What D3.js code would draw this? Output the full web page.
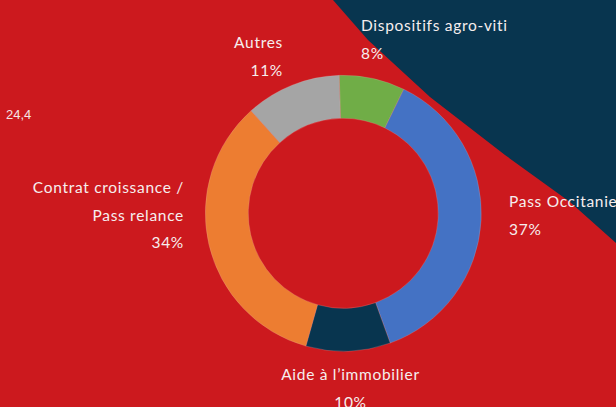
<!DOCTYPE html>
<html>
<head>
<meta charset="utf-8">
<script src="https://cdn.jsdelivr.net/npm/d3@7"></script>
<style>
  html, body { margin: 0; padding: 0; background: #cc191e; }
  svg { display: block; }
  .lbl { font-family: Lato, "Open Sans", sans-serif; font-weight: 400; font-size: 15.5px; letter-spacing: 0.7px; fill: #f6eeee; }
  .stray { font-family: "Liberation Sans", Arial, sans-serif; font-size: 13px; fill: #f4e4e4; }
</style>
</head>
<body>
<svg id="chart"></svg>
<script>
// slices, clockwise from the top
const categories = ["Dispositifs agro-viti", "Pass Occitanie", "Aide à l’immobilier", "Contrat croissance / Pass relance", "Autres"];
const values = [7.7, 37.3, 9.9, 34.0, 11.2];
const colors = ["#70ad47", "#4472c4", "#08354f", "#ed7d31", "#a5a5a5"];

// label lines (category text split as in the reference)
const labelLines = [
    ["Dispositifs agro-viti"],
    ["Pass Occitanie"],
    ["Aide à l’immobilier"],
    ["Contrat croissance /", "Pass relance"],
    ["Autres"]
];

const width = 616, height = 407;
const cx = 343.3, cy = 213.3;
const outerR = 138, innerR = 95;

// label anchor, baseline of first line, and text-anchor
const labelPos = [
    { x: 361, y: 31, anchor: "start" },
    { x: 509, y: 207, anchor: "start" },
    { x: 350.5, y: 380, anchor: "middle" },
    { x: 184, y: 193, anchor: "end" },
    { x: 283, y: 48, anchor: "end" }
];
const lineGap = 27.5;

const svg = d3.select("#chart")
    .attr("width", width)
    .attr("height", height);

// dark band in the top right corner of the slide
svg.append("path")
    .attr("d", "M333,0 L368,40 L430,97 L505,155 L570,202 L616,243 L616,0 Z")
    .attr("fill", "#08354f");

svg.append("text")
    .attr("class", "stray")
    .attr("x", 6)
    .attr("y", 119)
    .text("24,4");

const total = d3.sum(values);
const startA = -1.7 * Math.PI / 180;

const pie = d3.pie()
    .sort(null)
    .value(d => d)
    .startAngle(startA)
    .endAngle(startA + 2 * Math.PI);

const arc = d3.arc()
    .innerRadius(innerR)
    .outerRadius(outerR);

const g = svg.append("g")
    .attr("transform", `translate(${cx},${cy})`);

g.selectAll("path")
    .data(pie(values))
    .join("path")
    .attr("d", arc)
    .attr("fill", (d, i) => colors[i])
    .attr("stroke", "#e8b0b0")
    .attr("stroke-width", 0.4)
    .attr("stroke-opacity", 0.6);

// labels: category name(s) + rounded percentage
const fmt = v => `${Math.round(v / total * 100)}%`;

values.forEach((v, i) => {
    const p = labelPos[i];
    const t = svg.append("text")
        .attr("class", "lbl")
        .attr("text-anchor", p.anchor);
    const lines = labelLines[i].concat([fmt(v)]);
    lines.forEach((s, k) => {
        t.append("tspan")
            .attr("x", p.x)
            .attr("y", p.y + k * lineGap)
            .text(s);
    });
});
</script>
</body>
</html>
